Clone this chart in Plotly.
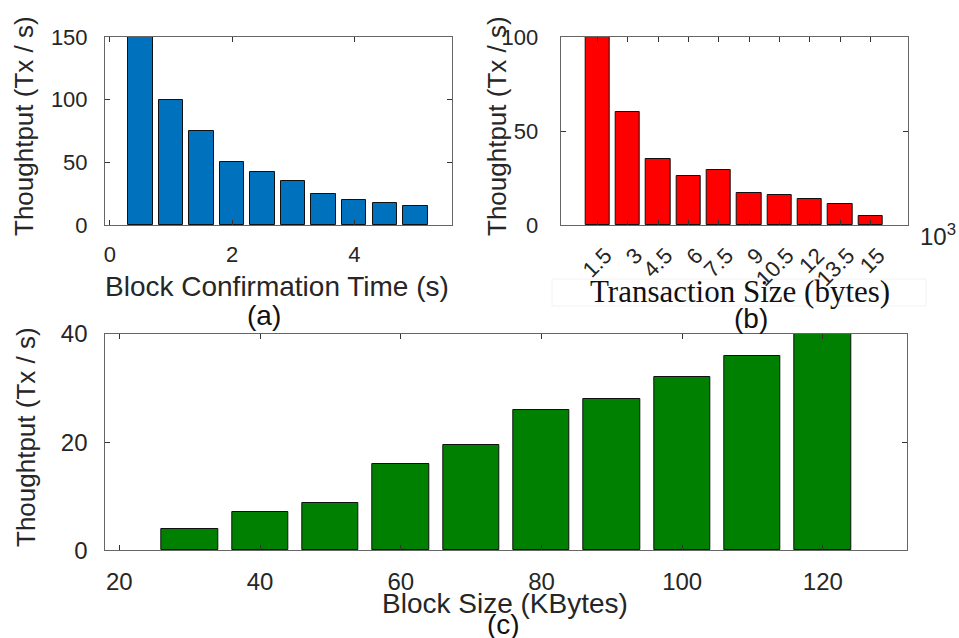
import plotly.graph_objects as go

# ---------------- data ----------------
conf_time = [0.5, 1.0, 1.5, 2.0, 2.5, 3.0, 3.5, 4.0, 4.5, 5.0]
tput_a = [150, 100, 75, 50, 42.5, 35, 25, 20, 17.5, 15]

tx_size = [1.5, 3, 4.5, 6, 7.5, 9, 10.5, 12, 13.5, 15]
tx_labels = ["1.5", "3", "4.5", "6", "7.5", "9", "10.5", "12", "13.5", "15"]
tput_b = [100, 60, 35, 26, 29, 17, 16, 14, 11, 5]

block_size = [30, 40, 50, 60, 70, 80, 90, 100, 110, 120]
tput_c = [4, 7.1, 8.8, 16, 19.5, 26, 28, 32, 36, 40]

a_xticks = [0, 2, 4]
a_yticks = [0, 50, 100, 150]
b_yticks = [0, 50, 100]
c_xticks = [20, 40, 60, 80, 100, 120]
c_yticks = [0, 20, 40]

# ---------------- layout helpers ----------------
W, H = 959, 638
def px(x):
    return x / W
def py(y):
    return 1 - y / H

SANS = "Liberation Sans, Arial, sans-serif"
SERIF = "Liberation Serif, Times New Roman, serif"
TXT = "#262626"

fig = go.Figure()
fig.add_trace(go.Bar(x=conf_time, y=tput_a, width=0.4, xaxis="x", yaxis="y",
                     marker=dict(color="#0072BD", line=dict(color="#111111", width=1))))
fig.add_trace(go.Bar(x=tx_size, y=tput_b, width=1.2, xaxis="x2", yaxis="y2",
                     marker=dict(color="#FF0000", line=dict(color="#111111", width=1))))
fig.add_trace(go.Bar(x=block_size, y=tput_c, width=8, xaxis="x3", yaxis="y3",
                     marker=dict(color="#008000", line=dict(color="#111111", width=1))))

def ax(domain, rng, anchor, tickvals, size, standoff, ticktext=None, angle=None, shift=0):
    d = dict(domain=domain, range=rng, anchor=anchor, tickvals=tickvals,
             showline=True, linecolor="#666666", linewidth=1, mirror="ticks",
             ticks="inside", ticklen=5, tickcolor="#333333", tickwidth=1,
             showgrid=False, zeroline=False, fixedrange=True, automargin=False,
             tickfont=dict(family=SANS, size=size, color=TXT),
             ticklabelstandoff=standoff, ticklabelshift=shift)
    if ticktext is not None:
        d["ticktext"] = ticktext
    if angle is not None:
        d["tickangle"] = angle
    return d

ya_dom = [py(225), py(37)]
yc_dom = [py(550.3), py(334)]

fig.update_layout(
    template="none",
    width=W, height=H, margin=dict(l=0, r=0, t=0, b=0, autoexpand=False),
    paper_bgcolor="white", plot_bgcolor="white", showlegend=False,
    bargap=0,
    xaxis=ax([px(105), px(452)], [-0.08, 5.6], "y", a_xticks, 22, 10),
    yaxis=ax(ya_dom, [0, 150], "x", a_yticks, 22, 12),
    xaxis2=ax([px(560.7), px(907.7)], [-0.32, 16.84], "y2", tx_size, 22, 8,
              ticktext=tx_labels, angle=-45, shift=8),
    yaxis2=ax(ya_dom, [0, 100], "x2", b_yticks, 22, 17),
    xaxis3=ax([px(105.3), px(907.3)], [18, 132], "y3", c_xticks, 24, 10),
    yaxis3=ax(yc_dom, [0, 40], "x3", c_yticks, 24, 12),
)

def ann(text, x, y, size, family=SANS, angle=0, color=TXT):
    fig.add_annotation(text=text, x=px(x), y=py(y), xref="paper", yref="paper",
                       showarrow=False, textangle=angle, xanchor="center",
                       yanchor="middle", font=dict(family=family, size=size, color=color))

ytitle = "Thoughtput (Tx / s)"
ann(ytitle, 24, 126, 26, angle=-90)
ann(ytitle, 497, 126, 26, angle=-90)
ann(ytitle, 26, 437, 26, angle=-90)

ann("Block Confirmation Time (s)", 277, 286, 28)
ann("(a)", 264, 315, 28, color="#111111")
ann("Transaction Size (bytes)", 740, 292, 31, family=SERIF, color="#111111")
ann("(b)", 751, 318, 28, color="#111111")
ann("10<sup>3</sup>", 938, 235, 24)
ann("Block Size (KBytes)", 505, 603, 28)
ann("(c)", 503, 624, 28, color="#111111")

# faint frame left around the serif axis title in the source
fig.add_shape(type="rect", xref="paper", yref="paper",
              x0=px(552), x1=px(926), y0=py(306), y1=py(279),
              line=dict(color="#f2f2f2", width=1), fillcolor="rgba(0,0,0,0)", layer="below")

fig.write_html("out.html")
